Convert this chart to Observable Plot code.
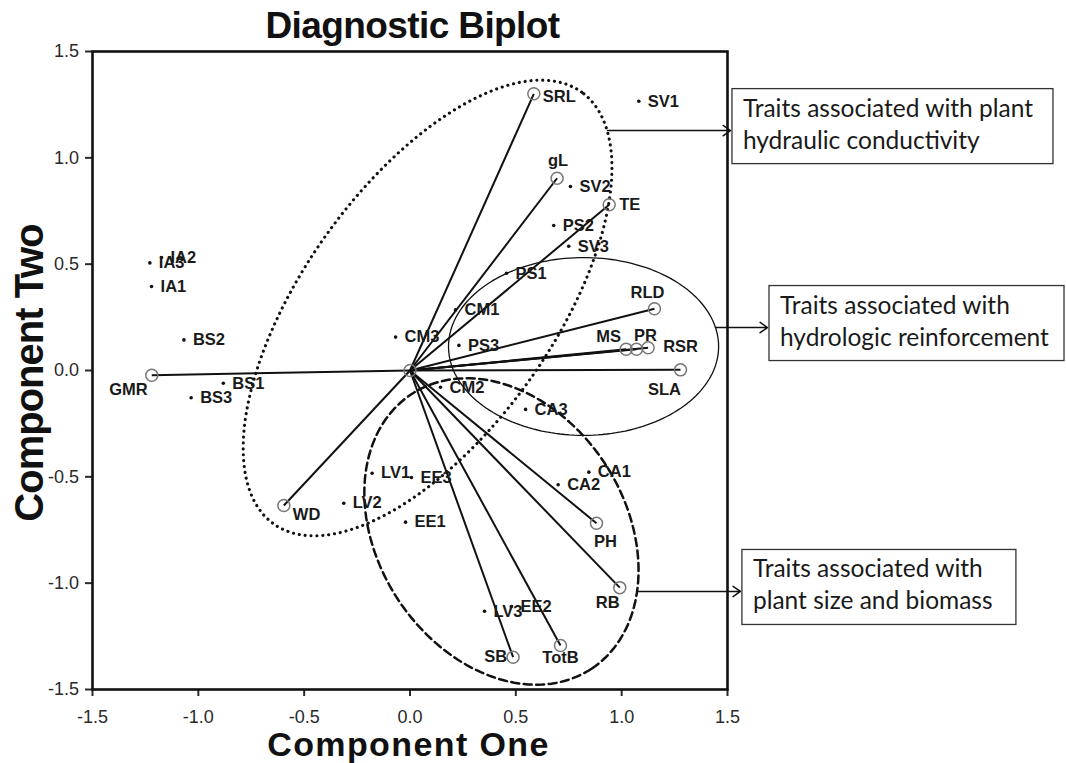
<!DOCTYPE html>
<html>
<head>
<meta charset="utf-8">
<script src="https://cdn.jsdelivr.net/npm/d3@7"></script>
<script src="https://cdn.jsdelivr.net/npm/@observablehq/plot@0.6"></script>
<style>
  html, body { margin: 0; padding: 0; background: #fff; }
  #chart svg { display: block; }
</style>
</head>
<body>
<div id="chart"></div>
<script>
// Trait loadings, drawn as vectors from the origin
const traitNames = ["SRL", "gL", "TE", "RLD", "MS", "PR", "RSR", "SLA", "GMR", "WD", "PH", "RB", "TotB", "SB"];
const traitPC1 = [0.585, 0.695, 0.941, 1.155, 1.021, 1.070, 1.125, 1.278, -1.220, -0.596, 0.881, 0.991, 0.711, 0.487];
const traitPC2 = [1.301, 0.904, 0.779, 0.290, 0.100, 0.100, 0.107, 0.003, -0.022, -0.635, -0.718, -1.021, -1.293, -1.348];

// Sample scores, drawn as small dots
const sampleNames = ["SV1", "SV2", "PS2", "SV3", "PS1", "CM1", "CM3", "PS3", "CM2", "IA3", "IA2", "IA1",
  "BS2", "BS1", "BS3", "LV1", "EE3", "LV2", "EE1", "LV3", "EE2", "CA3", "CA1", "CA2"];
const samplePC1 = [1.081, 0.758, 0.679, 0.750, 0.456, 0.215, -0.068, 0.231, 0.144, -1.229, -1.174, -1.221,
  -1.068, -0.882, -1.034, -0.179, 0.007, -0.313, -0.021, 0.352, 0.479, 0.546, 0.845, 0.700];
const samplePC2 = [1.266, 0.865, 0.682, 0.584, 0.457, 0.285, 0.157, 0.118, -0.079, 0.506, 0.531, 0.395,
  0.144, -0.060, -0.128, -0.483, -0.503, -0.624, -0.713, -1.132, -1.110, -0.183, -0.478, -0.537];

// Trait groupings outlined with ellipses (centre, semi-axes, rotation in degrees)
const groupNames = ["hydraulic", "hydrologic", "size"];
const groupCenterX = [0.083, 0.820, 0.432];
const groupCenterY = [0.294, 0.113, -0.757];
const groupRadiusA = [1.249, 0.638, 0.773];
const groupRadiusB = [0.589, 0.418, 0.584];
const groupAngle = [54.35, 0, -56.4];

// Call-outs for each group
const noteLines = [
  ["Traits associated with plant", "hydraulic conductivity"],
  ["Traits associated with", "hydrologic reinforcement"],
  ["Traits associated with", "plant size and biomass"]
];
const noteArrowY = [1.128, 0.202, -1.039];
const noteArrowFrom = [0.933, 1.443, 1.075];
const noteArrowTo = [1.514, 1.689, 1.561];

const ticks = [-1.5, -1.0, -0.5, 0.0, 0.5, 1.0, 1.5];

// ---- tables built from the arrays above
const traits = traitNames.map((name, i) => ({name, x: traitPC1[i], y: traitPC2[i]}));
const samples = sampleNames.map((name, i) => ({name, x: samplePC1[i], y: samplePC2[i]}));
const ellipse = groupNames.flatMap((group, i) => d3.range(0, 361, 2).map(t => {
  const th = t * Math.PI / 180, rot = groupAngle[i] * Math.PI / 180;
  const u = groupRadiusA[i] * Math.cos(th), v = groupRadiusB[i] * Math.sin(th);
  return {group, x: groupCenterX[i] + u * Math.cos(rot) - v * Math.sin(rot),
                 y: groupCenterY[i] + u * Math.sin(rot) + v * Math.cos(rot)};
}));
const notes = noteLines.map((lines, i) => ({lines, y: noteArrowY[i], x1: noteArrowFrom[i], x2: noteArrowTo[i]}));

// label placement around each vector tip
const traitLabel = {
  SRL: [9, 3, "start"], gL: [1, -18, "middle"], TE: [10, 0, "start"], RLD: [-7, -16, "middle"],
  MS: [-5, -13, "end"], PR: [9, -14, "middle"], RSR: [15, -1, "start"], SLA: [-16, 20, "middle"],
  GMR: [-4, 15, "end"], WD: [9, 9, "start"], PH: [9, 19, "middle"], RB: [-12, 15, "middle"],
  TotB: [0, 12, "middle"], SB: [-6, 0, "end"]
};

const labelFont = {fontFamily: "Liberation Sans, Arial, sans-serif", fontWeight: "bold", fontSize: 16.5, fill: "#1a1a1a"};
const boxWidths = [321, 295, 274];

function decorations(index, scales, values, dims) {
  const g = d3.create("svg:g");
  const cx = (dims.marginLeft + dims.width - dims.marginRight) / 2;
  const cy = (dims.marginTop + dims.height - dims.marginBottom) / 2;
  g.append("text")
    .attr("x", cx + 3).attr("y", 38).attr("text-anchor", "middle")
    .attr("font-family", "Liberation Sans, Arial, sans-serif").attr("font-weight", "bold")
    .attr("font-size", 37).attr("letter-spacing", -0.6).attr("fill", "#111")
    .text("Diagnostic Biplot");
  g.append("text")
    .attr("x", cx - 1).attr("y", 756).attr("text-anchor", "middle")
    .attr("font-family", "Liberation Sans, Arial, sans-serif").attr("font-weight", "bold")
    .attr("font-size", 34).attr("letter-spacing", 1.4).attr("fill", "#111")
    .text("Component One");
  g.append("text")
    .attr("transform", `translate(43,${cy + 3}) rotate(-90)`).attr("text-anchor", "middle")
    .attr("font-family", "Liberation Sans, Arial, sans-serif").attr("font-weight", "bold")
    .attr("font-size", 40).attr("letter-spacing", -1).attr("fill", "#111")
    .text("Component Two");
  notes.forEach((n, i) => {
    const x0 = scales.x(n.x2) + 2;
    const top = scales.y(n.y) - 4 - 37.5;
    g.append("rect").attr("x", x0).attr("y", top).attr("width", boxWidths[i]).attr("height", 75)
      .attr("fill", "#fff").attr("stroke", "#333").attr("stroke-width", 1.3);
    n.lines.forEach((t, j) => {
      g.append("text").attr("x", x0 + 11).attr("y", top + 28 + j * 32).attr("text-anchor", "start")
        .attr("font-family", "Lato, 'Open Sans', sans-serif").attr("font-size", 24.5).attr("fill", "#1a1a1a")
        .text(t);
    });
  });
  return g.node();
}

const chart = Plot.plot({
  width: 1066,
  height: 763,
  marginLeft: 92,
  marginRight: 339,
  marginTop: 51,
  marginBottom: 74,
  style: {fontFamily: "Liberation Sans, Arial, sans-serif", fontSize: "18px", background: "#fff", color: "#2a2a2a"},
  x: {domain: [-1.5, 1.5]},
  y: {domain: [-1.5, 1.5]},
  marks: [
    // group outlines
    Plot.line(ellipse.filter(d => d.group === "hydraulic"), {x: "x", y: "y", curve: "linear-closed",
      stroke: "#111", strokeWidth: 3.1, strokeDasharray: "0.1 5.8", strokeLinecap: "round"}),
    Plot.line(ellipse.filter(d => d.group === "hydrologic"), {x: "x", y: "y", curve: "linear-closed",
      stroke: "#111", strokeWidth: 1.3}),
    Plot.line(ellipse.filter(d => d.group === "size"), {x: "x", y: "y", curve: "linear-closed",
      stroke: "#111", strokeWidth: 2.5, strokeDasharray: "8 4.5"}),
    // call-out arrows
    Plot.arrow(notes, {x1: "x1", y1: "y", x2: "x2", y2: "y", stroke: "#111", strokeWidth: 1.5,
      headLength: 9, headAngle: 70}),
    // trait vectors
    Plot.link(traits, {x1: 0, y1: 0, x2: "x", y2: "y", stroke: "#111", strokeWidth: 2}),
    Plot.dot(traits, {x: "x", y: "y", r: 6, stroke: "#777", strokeWidth: 1.5, fill: "none"}),
    Plot.dot([{x: 0, y: 0}], {x: "x", y: "y", r: 6, stroke: "#777", strokeWidth: 1.5, fill: "none"}),
    ...traits.map(d => {
      const [dx, dy, anchor] = traitLabel[d.name];
      return Plot.text([d], {x: "x", y: "y", text: "name", dx, dy, textAnchor: anchor, ...labelFont});
    }),
    // sample scores
    Plot.dot(samples, {x: "x", y: "y", r: 1.8, fill: "#111"}),
    Plot.text(samples, {x: "x", y: "y", text: "name", dx: 9, textAnchor: "start", ...labelFont}),
    // axes and frame
    Plot.axisX({ticks, tickFormat: d => d.toFixed(1), tickSize: 7, tickPadding: 14, fontSize: 18,
      strokeWidth: 2, label: null}),
    Plot.axisY({ticks, tickFormat: d => d.toFixed(1), tickSize: 7, tickPadding: 6.5, fontSize: 18,
      strokeWidth: 2, label: null}),
    Plot.frame({stroke: "#111", strokeWidth: 2.6}),
    decorations
  ]
});

document.getElementById("chart").appendChild(chart);
</script>
</body>
</html>
